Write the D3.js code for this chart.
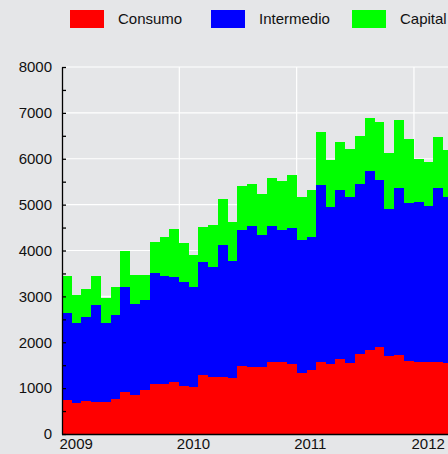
<!DOCTYPE html>
<html>
<head>
<meta charset="utf-8">
<title>Consumo, Intermedio, Capital</title>
<script src="https://d3js.org/d3.v7.min.js"></script>
<style>
  body { margin: 0; background: #e5e6e8; overflow: hidden; font-family: "Liberation Sans", Arial, sans-serif; }
  svg text { fill: #111; font-size: 15px; }
</style>
</head>
<body>
<script>
// monthly values, Jan 2009 onwards
var months = d3.range(40).map(function(i) { return new Date(2009, i, 1); });

var consumo = [
  750, 685, 720, 705, 690, 765, 915, 845, 960, 1090, 1085, 1125,
  1045, 1025, 1295, 1250, 1245, 1230, 1490, 1455, 1470, 1565, 1580, 1515,
  1340, 1405, 1565, 1515, 1635, 1555, 1745, 1835, 1900, 1710, 1725, 1595,
  1580, 1580, 1580, 1555
];
var intermedio = [
  1890, 1745, 1840, 2110, 1740, 1835, 2295, 1990, 1965, 2410, 2370, 2295,
  2275, 2190, 2450, 2385, 2865, 2540, 2960, 3085, 2865, 2965, 2865, 2980,
  2890, 2900, 3855, 3425, 3680, 3615, 3695, 3895, 3635, 3205, 3635, 3430,
  3475, 3390, 3780, 3610
];
var capital = [
  800, 605, 590, 640, 545, 605, 785, 630, 540, 675, 835, 1040,
  835, 690, 770, 925, 1010, 860, 960, 915, 900, 1050, 1070, 1155,
  940, 1020, 1165, 1025, 1050, 1050, 1060, 1165, 1260, 1210, 1490, 1410,
  945, 965, 1125, 1035
];

var seriesNames = ["Consumo", "Intermedio", "Capital"];
var seriesColors = ["#ff0000", "#0000ff", "#00ff00"];
var yTicks = [0, 1000, 2000, 3000, 4000, 5000, 6000, 7000, 8000];
var yMinor = [500, 1500, 2500, 3500, 4500, 5500, 6500, 7500];
var years = [new Date(2009, 0, 1), new Date(2010, 0, 1), new Date(2011, 0, 1), new Date(2012, 0, 1)];

var width = 560, height = 454;
var plotLeft = 62, plotBottom = 434, plotTop = 67;

var svg = d3.select("body").append("svg")
    .attr("width", width)
    .attr("height", height);

var x = d3.scaleTime()
    .domain([new Date(2009, 0, 1), new Date(2013, 0, 1)])
    .range([plotLeft, plotLeft + 4 * 117.4]);

var y = d3.scaleLinear()
    .domain([0, 8000])
    .range([plotBottom, plotTop]);

// grid
svg.append("g").selectAll("line")
    .data(yTicks.slice(1))
    .enter().append("line")
    .attr("x1", plotLeft).attr("x2", width)
    .attr("y1", function(d) { return y(d); })
    .attr("y2", function(d) { return y(d); })
    .attr("stroke", "#ffffff").attr("stroke-width", 1.2);

svg.append("g").selectAll("line")
    .data(years.slice(1))
    .enter().append("line")
    .attr("x1", function(d) { return x(d); })
    .attr("x2", function(d) { return x(d); })
    .attr("y1", plotTop).attr("y2", plotBottom)
    .attr("stroke", "#ffffff").attr("stroke-width", 1.2);

// stacked bars
var rows = months.map(function(m, i) {
  return { date: m, Consumo: consumo[i], Intermedio: intermedio[i], Capital: capital[i] };
});
var stack = d3.stack().keys(seriesNames)(rows);

svg.append("g")
    .attr("shape-rendering", "crispEdges")
    .selectAll("g")
    .data(stack)
    .enter().append("g")
    .attr("fill", function(d, i) { return seriesColors[i]; })
    .selectAll("rect")
    .data(function(d) { return d; })
    .enter().append("rect")
    .attr("x", function(d) { return x(d.data.date); })
    .attr("width", function(d) { return x(d3.timeMonth.offset(d.data.date, 1)) - x(d.data.date); })
    .attr("y", function(d) { return y(d[1]); })
    .attr("height", function(d) { return y(d[0]) - y(d[1]); });

// axes
var yAxis = svg.append("g")
    .attr("transform", "translate(" + plotLeft + ",0)")
    .call(d3.axisLeft(y).tickValues(yTicks).tickSize(-4).tickSizeOuter(0).tickPadding(10)
      .tickFormat(d3.format("d")));
yAxis.selectAll("text").style("font-size", "15px");

svg.append("g")
    .attr("transform", "translate(" + plotLeft + ",0)")
    .call(d3.axisLeft(y).tickValues(yMinor).tickSize(-4).tickSizeOuter(0).tickFormat(""))
    .select(".domain").remove();

var xAxis = svg.append("g")
    .attr("transform", "translate(0," + plotBottom + ")")
    .call(d3.axisBottom(x).tickValues(years).tickSize(0).tickSizeOuter(0).tickPadding(4)
      .tickFormat(d3.timeFormat("%Y")));
xAxis.select(".domain").attr("d", "M" + plotLeft + ",0.5H" + width);
xAxis.selectAll("text")
    .attr("text-anchor", "start")
    .attr("dx", -3)
    .style("font-size", "15px");

svg.selectAll(".domain").attr("stroke", "#000").attr("stroke-width", 1.3);
svg.selectAll(".tick line").attr("stroke", "#000").attr("stroke-width", 1.3);

// legend
var legendX = [70, 211, 352];
var legend = svg.append("g").selectAll("g")
    .data(seriesNames)
    .enter().append("g")
    .attr("transform", function(d, i) { return "translate(" + legendX[i] + ",10)"; });
legend.append("rect")
    .attr("width", 34).attr("height", 18)
    .attr("fill", function(d, i) { return seriesColors[i]; });
legend.append("text")
    .attr("x", 48).attr("y", 9).attr("dy", "0.35em")
    .text(function(d) { return d; });
</script>
</body>
</html>
